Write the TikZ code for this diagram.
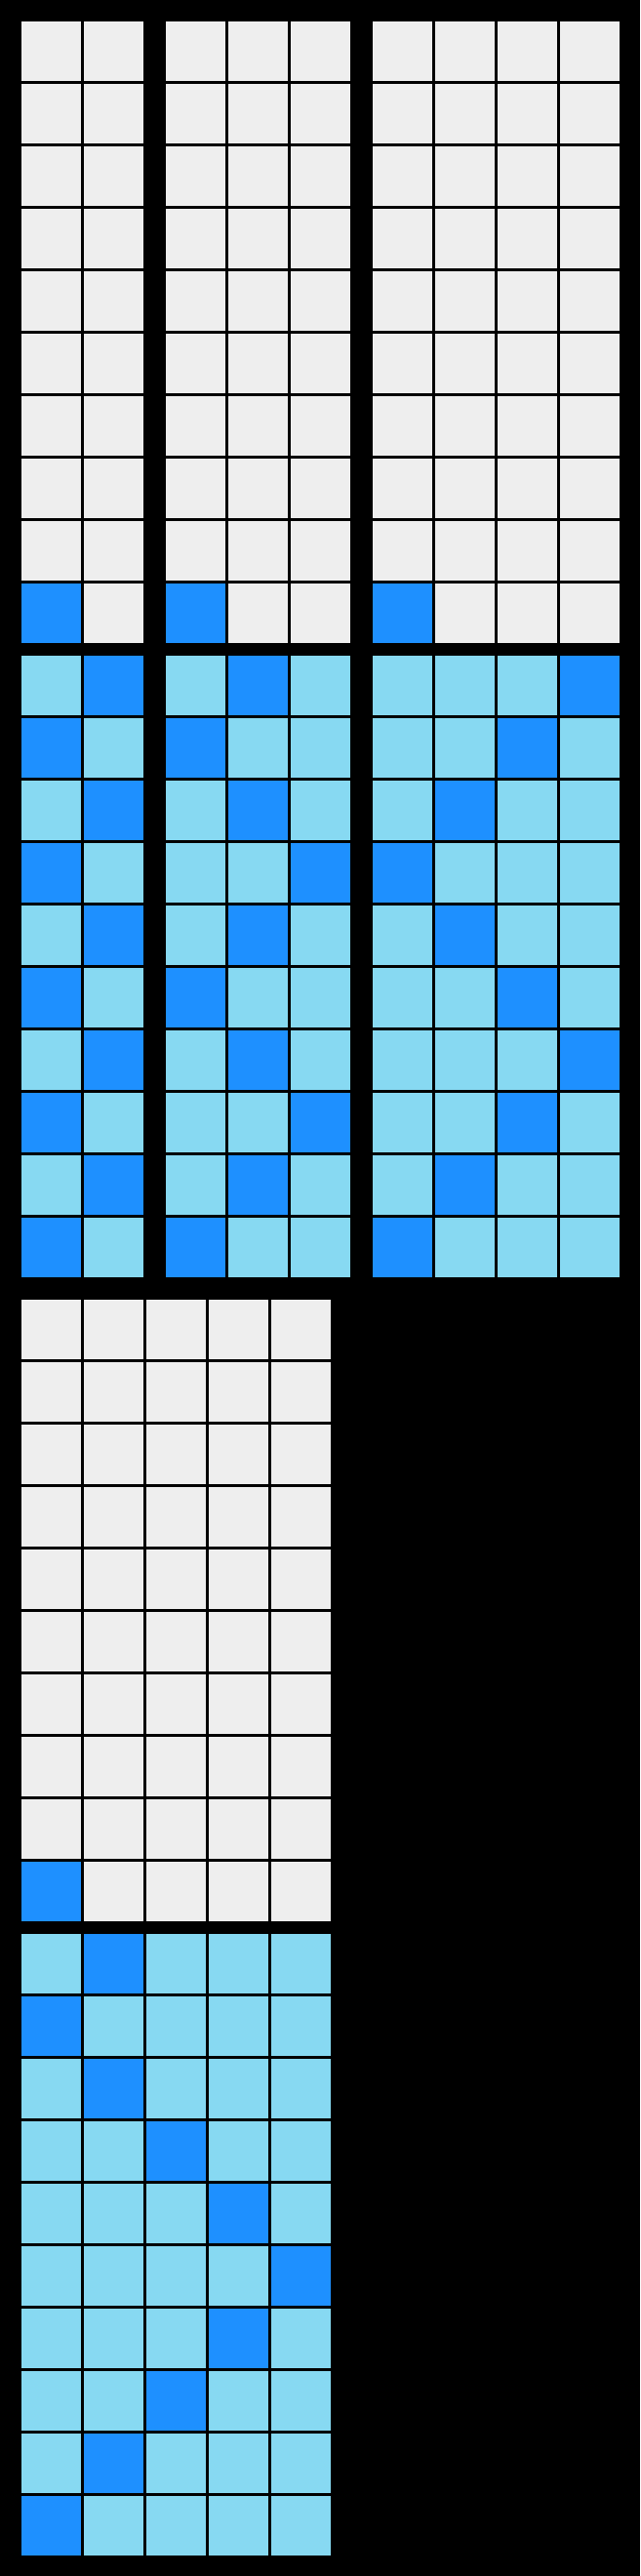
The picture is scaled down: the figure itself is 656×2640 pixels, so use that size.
\documentclass[tikz,border=0pt]{standalone}
\usepackage{tikz}

\definecolor{idle}{HTML}{EEEEEE}
\definecolor{lane}{HTML}{87D9F2}
\definecolor{bolt}{HTML}{1E90FF}

\begin{document}
\begin{tikzpicture}[x=1pt,y=-1pt,cell/.style={draw=black,line width=3pt,fill=#1},cell/.default=idle]
        \fill[black] (0,0) rectangle (656,2640);
        \useasboundingbox (0,0) rectangle (656,2640);

        % x, y, columns, hit column of each lower row (top row first)
        \foreach \px/\py/\n/\hits in {20.5/20.5/2/{1,0,1,0,1,0,1,0,1,0},
                                      168.5/20.5/3/{1,0,1,2,1,0,1,2,1,0},
                                      380.5/20.5/4/{3,2,1,0,1,2,3,2,1,0},
                                      20.5/1330.5/5/{1,0,1,2,3,4,3,2,1,0}} {
            \pgfmathtruncatemacro\last{\n-1}
            % upper grid
            \foreach \r in {0,...,9}
                \foreach \c in {0,...,\last} {
                    \ifnum\r\c=90 \def\kind{bolt}\else\def\kind{idle}\fi
                    \draw[cell=\kind] (\px+\c*64,\py+\r*64) rectangle ++(64,64);
                }
            % lower grid
            \foreach \h [count=\r from 0] in \hits
                \foreach \c in {0,...,\last} {
                    \ifnum\c=\h \def\kind{bolt}\else\def\kind{lane}\fi
                    \draw[cell=\kind] (\px+\c*64,\py+650+\r*64) rectangle ++(64,64);
                }
        }
\end{tikzpicture}
\end{document}
